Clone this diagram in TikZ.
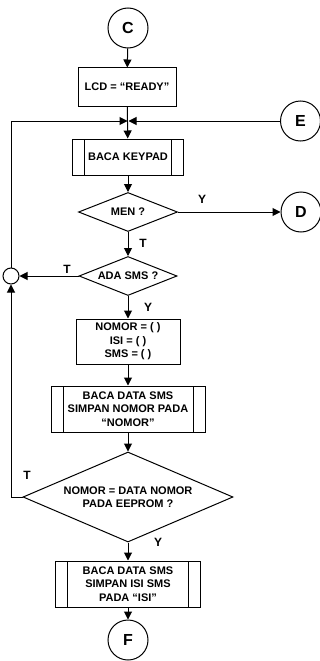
\documentclass[tikz,border=0pt]{standalone}
\usepackage{fontspec}
\setmainfont{Liberation Sans}
\usetikzlibrary{shapes.geometric,arrows.meta}
\begin{document}
\begin{tikzpicture}[x=1pt,y=-1pt,
  every node/.style={font=\fontsize{11}{13.5}\selectfont\bfseries, align=center},
  box/.style={draw, line width=1pt, inner sep=0pt},
  subr/.style={box, path picture={
     \draw[line width=1pt] ([xshift=12pt]path picture bounding box.north west) -- ([xshift=12pt]path picture bounding box.south west);
     \draw[line width=1pt] ([xshift=-12pt]path picture bounding box.north east) -- ([xshift=-12pt]path picture bounding box.south east);}},
  dec/.style={draw, line width=1pt, diamond, inner sep=0pt},
  conn/.style={draw, circle, line width=1pt, minimum size=40pt, inner sep=0pt, font=\fontsize{16}{18}\selectfont\bfseries},
  lbl/.style={font=\fontsize{12}{14}\selectfont\bfseries, inner sep=0pt},
  line/.style={line width=1pt},
  arr/.style={line, -{Triangle[length=8pt,width=8pt]}}]
\useasboundingbox (0,0) rectangle (320,661);

\node[conn] (C) at (128,28) {C};
\node[box, minimum width=98pt, minimum height=38pt] (lcd) at (127,87) {LCD = “READY”};
\coordinate (J) at (128,121);
\node[conn] (E) at (300.5,121) {E};
\node[subr, minimum width=111pt, minimum height=36pt] (kp) at (128,157) {BACA KEYPAD};
\node[dec, minimum width=99pt, minimum height=39pt, aspect=2.5] (men) at (128,212) {MEN ?};
\node[conn] (D) at (301,212) {D};
\node[dec, minimum width=98pt, minimum height=39pt, aspect=2.5] (ada) at (128,276) {ADA SMS ?};
\node[draw, circle, line width=1pt, minimum size=16pt, inner sep=0pt] (sm) at (11,276) {};
\node[box, minimum width=104pt, minimum height=45pt] (nom) at (128,341.5) {NOMOR = ( )\\ISI = ( )\\SMS = ( )};
\node[subr, minimum width=154pt, minimum height=46pt] (bd1) at (128,409) {BACA DATA SMS\\SIMPAN NOMOR PADA\\“NOMOR”};
\node[dec, minimum width=210pt, minimum height=90pt, aspect=2.33] (eep) at (128,497) {NOMOR = DATA NOMOR\\PADA EEPROM ?};
\node[subr, minimum width=145pt, minimum height=46pt] (bd2) at (128,584) {BACA DATA SMS\\SIMPAN ISI SMS\\PADA “ISI”};
\node[conn] (F) at (128,640) {F};

\node[lbl] (y1) at (202,199) {Y};
\node[lbl] (t1) at (143,243) {T};
\node[lbl] (t2) at (67,269) {T};
\node[lbl] (y2) at (148,307) {Y};
\node[lbl] (t3) at (27,475) {T};
\node[lbl] (y3) at (158,542) {Y};

\coordinate (tl) at (11,121);
\coordinate (bl) at (11,497);

\draw[arr] (C) -- (lcd);
\draw[arr] (lcd) -- (kp);
\draw[arr] (sm.north) -- (tl) -- ([xshift=-0.5pt]J);
\draw[arr] (E) -- ([xshift=0.5pt]J);
\draw[arr] (kp) -- (men);
\draw[arr] (men.east) -- (D);
\draw[arr] (men.south) -- (ada.north);
\draw[arr] (ada.west) -- (sm.east);
\draw[arr] (ada.south) -- (nom.north);
\draw[arr] (nom) -- (bd1);
\draw[arr] (bd1) -- (eep.north);
\draw[arr] (eep.west) -- (bl) -- (sm.south);
\draw[arr] (eep.south) -- (bd2.north);
\draw[arr] (bd2) -- (F);
\end{tikzpicture}
\end{document}
